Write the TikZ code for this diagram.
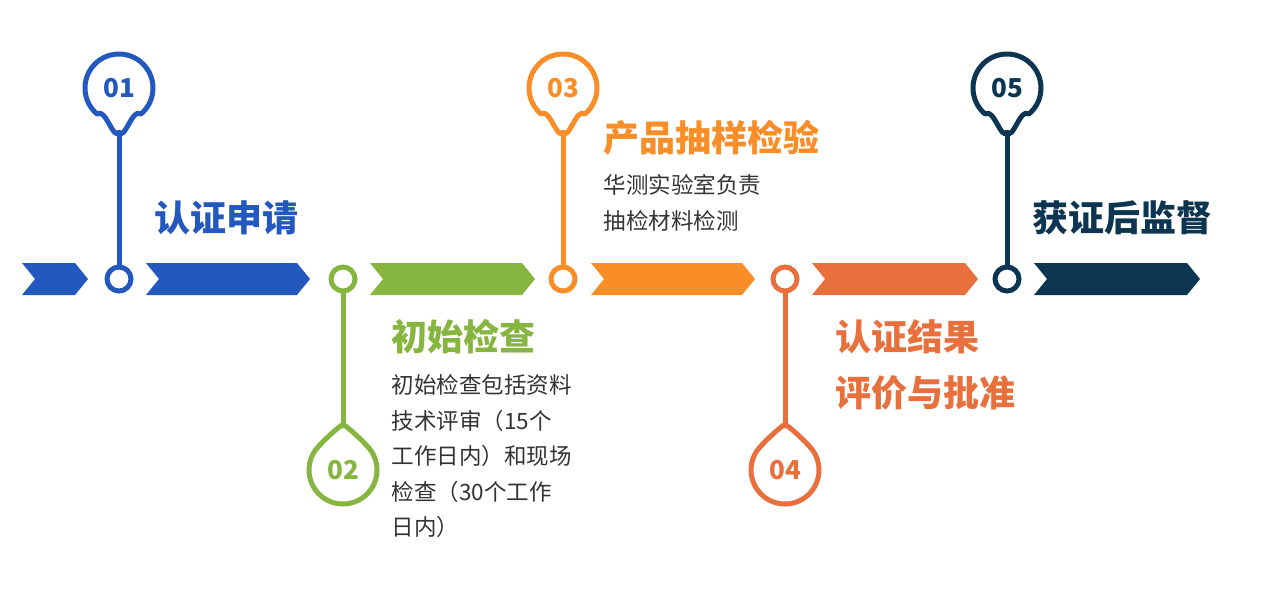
\documentclass[tikz,border=0pt]{standalone}
\usepackage{fontspec}
\usetikzlibrary{calc}
\newfontfamily\cjk{Noto Sans CJK SC}
\definecolor{cA}{HTML}{2358BE}
\definecolor{cB}{HTML}{86B540}
\definecolor{cC}{HTML}{F98D28}
\definecolor{cD}{HTML}{E8703D}
\definecolor{cE}{HTML}{0B3550}
\definecolor{txt}{HTML}{333333}
\tikzset{
  dot/.style={circle,draw=#1,line width=5pt,fill=white,minimum size=24pt,inner sep=0pt},
  pin/.style={draw=#1,line width=5pt,fill=white},
  num/.style={text=#1,font=\cjk\bfseries\fontsize{26}{26}\selectfont},
  ttl/.style={text=#1,font=\cjk\bfseries\fontsize{36}{40}\selectfont,anchor=west,align=left},
  body/.style={text=txt,font=\cjk\fontsize{22.5}{35.5}\selectfont,anchor=north west,align=left},
}
\newcommand\chevshape[3]{\fill[#3] (#1,263) -- (#2-13,263) -- (#2,279) -- (#2-13,295) -- (#1,295) -- (#1+13,279) -- cycle;}
\begin{document}
\begin{tikzpicture}[x=1pt,y=-1pt]
\useasboundingbox (0,0) rectangle (1268,595);
\chevshape{22}{88}{cA}
\chevshape{146}{310}{cA}
\chevshape{370}{535}{cB}
\chevshape{591}{755}{cC}
\chevshape{812}{978}{cD}
\chevshape{1034}{1200}{cE}
% pins
\foreach \x/\y/\c/\n/\d/\tp in {119/88/cA/01/1/p1, 343/470/cB/02/-1/p2, 563/88/cC/03/1/p3, 785/470/cD/04/-1/p4, 1007/88/cE/05/1/p5}{
  \coordinate (\tp) at (\x,\y+\d*44);
  \coordinate (\tp s) at (\x,279-\d*13);
  \draw[\c,line width=5pt] (\tp) -- (\tp s);
  \ifnum\d=1
    \draw[pin=\c,line join=round] (\tp) to[out=-120,in=40] ($(\x,\y)+(130:34)$) arc[start angle=130,end angle=410,radius=34] to[out=140,in=-60] cycle;
  \else
    \draw[pin=\c,line join=round] (\tp) to[out=120,in=-40] ($(\x,\y)+(-50:34)$) arc[start angle=-50,end angle=230,radius=34] to[out=-140,in=60] cycle;
  \fi
  \node[num=\c] (n\n) at (\x,\y) {\n};
  \node[dot=\c] (d\n) at (\x,279) {};
}
\node[ttl=cA] (t1) at (151,218) {认证申请};
\node[ttl=cB] (t2) at (388,337) {初始检查};
\node[body] (b2) at (388,371) {初始检查包括资料\\技术评审（15个\\工作日内）和现场\\检查（30个工作\\日内）};
\node[ttl=cC] (t3) at (600,138) {产品抽样检验};
\node[body] (b3) at (600,171) {华测实验室负责\\抽检材料检测};
\node[ttl=cD,font=\cjk\bfseries\fontsize{36}{56}\selectfont] (t4) at (832,365) {认证结果\\评价与批准};
\node[ttl=cE] (t5) at (1029,218) {获证后监督};
\end{tikzpicture}
\end{document}
